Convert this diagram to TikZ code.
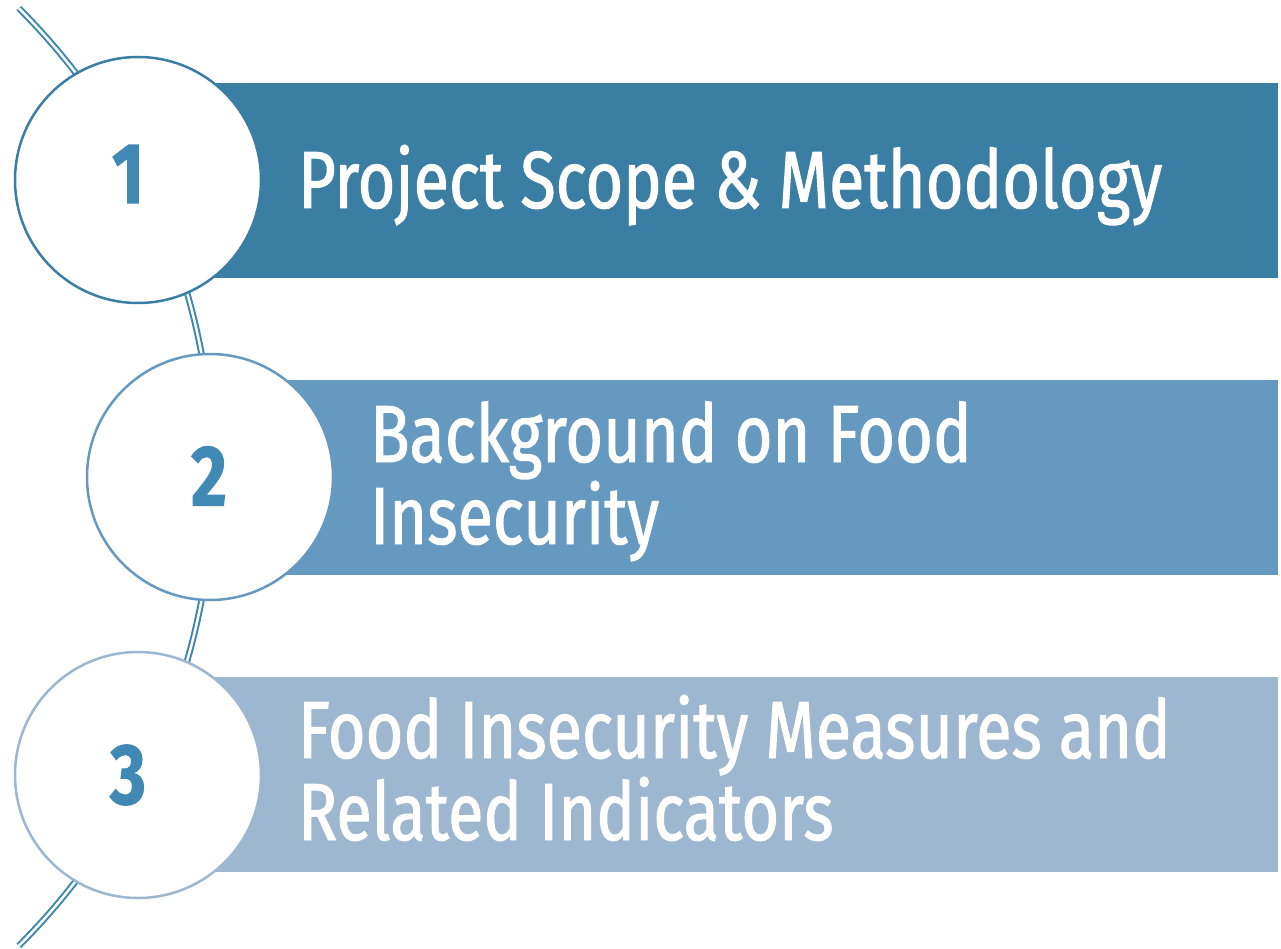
\documentclass[tikz,border=0pt]{standalone}
\usepackage{fontspec}
\setmainfont[FakeStretch=0.8, FakeBold=1.2]{Fira Sans}
\usepackage{xcolor}
\definecolor{colorBarOne}{HTML}{3B7EA3}
\definecolor{colorBarTwo}{HTML}{6699C0}
\definecolor{colorBarThree}{HTML}{9DB7D0}
\definecolor{colorLine}{HTML}{3D86B0}
\definecolor{colorNumber}{HTML}{4189B5}
\usepackage{tikz}
\usetikzlibrary{positioning}
\tikzset{
  bar/.style={rectangle, minimum width=1140pt, minimum height=195pt, inner sep=0pt, draw=none},
  stepcircle/.style={circle, fill=white, minimum size=246pt, inner sep=0pt, line width=2.5pt},
  number/.style={text=colorNumber, font=\fontsize{86}{86}\selectfont\bfseries, inner sep=0pt},
  bartext/.style={text=white, font=\fontsize{81}{82}\selectfont, align=left, inner sep=0pt, anchor=base west}
}

\begin{document}
\begin{tikzpicture}[x=1pt, y=-1pt]
\useasboundingbox (0,0) rectangle (1281,949);
\draw[colorLine, line width=2pt, double=white, double distance=2.5pt] (-450,477) ++(-45:663) arc[start angle=-45, end angle=45, radius=663];
\node[bar, fill=colorBarOne] (b1) at (708,180.5) {};
\node[bar, fill=colorBarTwo, minimum width=1068pt] (b2) at (744,477.5) {};
\node[bar, fill=colorBarThree] (b3) at (708,774) {};
\node[stepcircle, draw=colorBarOne] (c1) at (138,180) {};
\node[stepcircle, draw=colorBarTwo] (c2) at (210,477) {};
\node[stepcircle, draw=colorBarThree] (c3) at (138,775) {};
\node[number] (n1) at (128,174) {1};
\node[number] (n2) at (209,476) {2};
\node[number] (n3) at (128,775) {3};
\node[bartext] (t1) at (298,208) {Project Scope \& Methodology};
\node[bartext] (t2) at (370,544) {Background on Food\\Insecurity};
\node[bartext] (t3) at (298,840) {Food Insecurity Measures and\\Related Indicators};
\end{tikzpicture}
\end{document}
